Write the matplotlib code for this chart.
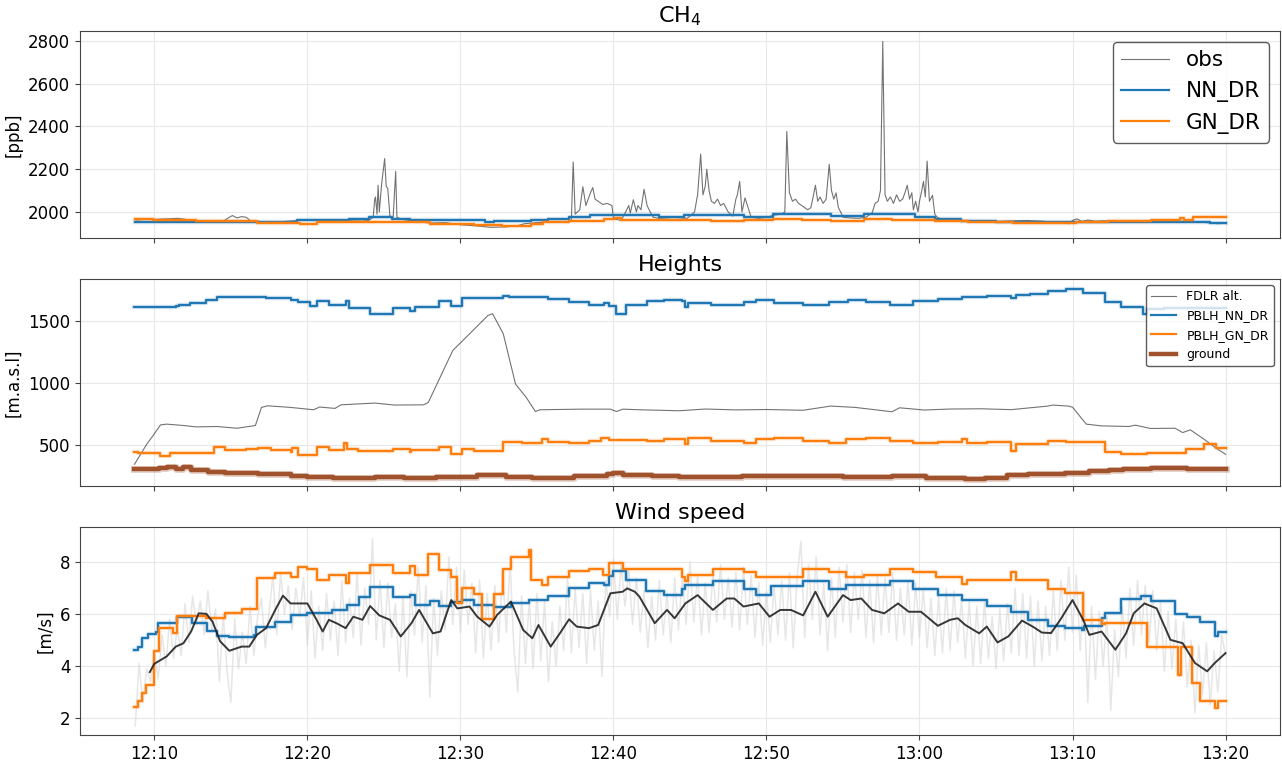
import numpy as np
import pandas as pd
import matplotlib
matplotlib.use("Agg")
import matplotlib.pyplot as plt
import matplotlib.dates as mdates

# ---------------- DATA (time in minutes after 12:00) ----------------
# CH4 observations
obs_t = [8.8, 9.5, 10.0, 10.5, 11.0, 11.5, 12.0, 12.4, 13.0, 13.8, 14.5, 14.9, 15.1, 15.4, 15.7, 16.0, 16.3,
         17.0, 18.0, 19.0, 20.0, 20.5, 21.0, 21.8, 22.5, 23.0, 23.6, 24.0, 24.3, 24.4, 24.45, 24.55, 24.62,
         24.7, 24.85, 25.05, 25.15, 25.25, 25.4, 25.6, 25.77, 25.85, 26.2, 27.0, 28.0, 29.0, 30.0, 31.0,
         32.0, 33.0, 33.7, 34.2, 35.0, 36.0, 37.0, 37.25, 37.37, 37.5, 37.8, 38.0, 38.2, 38.35, 38.5, 38.65,
         38.8, 39.0, 39.3, 39.6, 39.9, 40.0, 40.2, 40.5, 40.8, 41.0, 41.1, 41.3, 41.5, 41.6, 41.8, 42.0,
         42.2, 42.4, 42.6, 43.0, 44.0, 44.8, 45.0, 45.3, 45.5, 45.7, 45.85, 46.0, 46.1, 46.25, 46.4, 46.6,
         46.8, 47.0, 47.2, 47.5, 47.8, 48.0, 48.1, 48.25, 48.4, 48.6, 48.8, 49.0, 49.5, 50.0, 50.5, 51.0,
         51.2, 51.33, 51.5, 51.7, 51.9, 52.1, 52.3, 52.5, 52.7, 52.9, 53.05, 53.2, 53.35, 53.5, 53.7, 53.9,
         54.1, 54.25, 54.4, 54.55, 54.7, 54.85, 55.0, 55.5, 56.0, 56.5, 56.9, 57.1, 57.3, 57.45, 57.6,
         57.75, 57.9, 58.1, 58.3, 58.5, 58.7, 58.9, 59.05, 59.2, 59.35, 59.5, 59.6, 59.75, 59.9, 60.0,
         60.15, 60.26, 60.38, 60.5, 60.65, 60.85, 61.0, 61.15, 61.5, 62.0, 63.0, 64.0, 65.0, 66.0, 67.0,
         68.0, 69.0, 69.8, 70.0, 70.3, 70.6, 71.0, 71.5, 72.0, 73.0, 74.0, 75.0, 76.0, 77.0, 78.0, 79.0,
         79.5, 80.0]
obs_v = [1962, 1966, 1965, 1967, 1968, 1970, 1966, 1958, 1957, 1955, 1957, 1975, 1983, 1972, 1978, 1975, 1958,
         1955, 1953, 1958, 1963, 1960, 1956, 1958, 1960, 1958, 1957, 1960, 1975, 2060, 2070, 1990, 2125,
         2000, 2130, 2250, 2120, 2110, 1975, 1968, 2190, 1975, 1965, 1955, 1948, 1950, 1940, 1935,
         1928, 1930, 1935, 1945, 1950, 1953, 1955, 1960, 2234, 1990, 2010, 2118, 2030, 2060, 2090, 2114,
         2060, 2050, 2035, 2040, 2030, 1970, 1965, 1960, 2000, 2030, 1995, 2057, 2000, 2030, 2010, 2106,
         2030, 2000, 1975, 1970, 1975, 1970, 1980, 2000, 2080, 2271, 2080, 2120, 2200, 2100, 2050, 2040,
         2060, 2030, 2040, 2000, 1980, 2060, 2080, 2143, 2000, 2066, 2020, 1975, 1970, 1975, 1985, 1990,
         2000, 2377, 2090, 2050, 2060, 2040, 2030, 2020, 2010, 2020, 2070, 2125, 2050, 2070, 2040, 2060,
         2223, 2100, 2060, 2089, 2020, 2000, 1975, 1972, 1970, 1975, 1995, 2040, 2050, 2100, 2798,
         2080, 2050, 2070, 2040, 2080, 2050, 2060, 2090, 2125, 2060, 2090, 2010, 2050, 2000, 2050,
         2100, 2143, 2070, 2238, 2050, 2078, 1990, 1975, 1965, 1960, 1958, 1960, 1955, 1958, 1960,
         1957, 1950, 1945, 1960, 1968, 1955, 1962, 1956, 1958, 1955, 1957, 1955, 1958, 1956, 1955, 1948,
         1945, 1947]

ch4_nn_t = [8.75, 12.5, 16.7, 19.3, 22.7, 24.0, 25.5, 26.7, 30.0, 31.6, 32.2, 34.6, 35.7, 37.1, 38.5, 40.0,
            43.0, 44.6, 48.5, 50.4, 54.2, 56.4, 59.7, 61.0, 62.7, 65.0, 67.5, 70.0, 70.6, 78.0, 79.0, 80.0]
ch4_nn_v = [1953, 1955, 1952, 1960, 1968, 1978, 1968, 1963, 1960, 1952, 1957, 1960, 1966, 1977, 1988, 1985,
            1975, 1987, 1978, 1989, 1980, 1991, 1977, 1965, 1958, 1954, 1951, 1952, 1955, 1952, 1949, 1949]
ch4_gn_t = [8.75, 9.9, 12.7, 16.7, 19.5, 20.6, 28.0, 30.9, 32.7, 34.6, 35.4, 37.1, 39.4, 40.1, 40.5, 43.3,
            46.4, 48.5, 50.4, 52.3, 54.2, 56.4, 58.2, 61.0, 63.2, 66.1, 70.2, 72.3, 75.1, 77.0, 77.3, 77.9, 80.0]
ch4_gn_v = [1967, 1963, 1957, 1948, 1945, 1951, 1942, 1937, 1934, 1943, 1952, 1957, 1965, 1972, 1963, 1960,
            1958, 1963, 1969, 1963, 1957, 1969, 1963, 1957, 1954, 1946, 1954, 1958, 1962, 1971, 1963, 1977, 1977]

# Heights
fdlr_t = [8.7, 9.5, 9.9, 10.4, 10.8, 11.9, 12.7, 14.1, 15.4, 16.6, 17.0, 17.4, 18.9, 20.4, 20.8, 21.8, 22.2,
          24.4, 25.7, 27.6, 27.9, 29.5, 30.6, 31.8, 32.1, 32.8, 33.6, 34.3, 34.9, 35.2, 37.9, 39.8, 40.2,
          40.6, 41.7, 44.3, 46.0, 48.0, 50.0, 52.4, 54.2, 55.8, 58.2, 58.7, 60.3, 62.0, 64.0, 66.0, 68.4,
          68.7, 69.7, 70.0, 70.9, 71.9, 73.7, 74.1, 75.1, 76.7, 77.2, 77.7, 78.6, 79.4, 80.0]
fdlr_v = [344, 506, 573, 662, 668, 657, 646, 649, 635, 657, 803, 816, 803, 784, 806, 795, 824,
          838, 822, 824, 843, 1262, 1397, 1545, 1559, 1397, 992, 884, 770, 784, 789, 789, 770,
          789, 784, 776, 790, 783, 786, 780, 814, 803, 768, 800, 782, 790, 792, 785, 814,
          822, 814, 805, 668, 654, 649, 660, 633, 635, 600, 622, 546, 473, 425]

pblh_nn_t = [8.7, 11.4, 11.6, 12.3, 13.4, 14.1, 15.0, 17.3, 18.9, 19.4, 20.2, 20.6, 21.4, 22.5, 22.7, 24.1,
             25.6, 26.7, 27.0, 28.6, 29.4, 30.1, 32.8, 33.2, 35.7, 37.1, 38.4, 39.4, 39.7, 40.2, 40.8, 42.2,
             43.3, 44.5, 44.7, 44.85, 46.4, 48.5, 49.3, 50.5, 52.4, 54.1, 55.3, 56.5, 58.1, 59.6, 61.2, 62.8,
             64.4, 66.0, 66.3, 67.2, 68.4, 69.6, 70.7, 72.1, 73.2, 74.6, 74.9, 76.0, 80.0]
pblh_nn_v = [1610, 1618, 1626, 1645, 1670, 1697, 1690, 1683, 1672, 1650, 1624, 1659, 1626, 1661, 1607, 1559,
             1607, 1583, 1610, 1659, 1624, 1686, 1702, 1694, 1680, 1656, 1632, 1648, 1624, 1559, 1632, 1659,
             1667, 1659, 1613, 1645, 1632, 1653, 1667, 1648, 1632, 1653, 1667, 1653, 1632, 1661, 1678, 1694,
             1702, 1686, 1710, 1721, 1743, 1756, 1729, 1653, 1613, 1560, 1600, 1607, 1607]

pblh_gn_t = [8.7, 8.9, 10.4, 11.0, 13.5, 13.9, 14.6, 16.0, 16.8, 17.6, 18.9, 19.0, 19.4, 20.6, 21.4, 22.4,
             22.6, 23.3, 25.6, 26.7, 26.8, 28.6, 29.4, 30.1, 30.9, 32.8, 34.0, 35.3, 35.7, 37.1, 38.4, 39.2,
             39.7, 42.2, 43.3, 44.7, 44.85, 46.4, 48.5, 49.3, 50.5, 52.4, 54.1, 55.2, 56.5, 58.1, 59.6, 61.2,
             62.8, 63.1, 64.4, 66.0, 66.3, 68.4, 69.6, 72.1, 73.2, 74.9, 77.4, 78.6, 79.4, 80.0]
pblh_gn_v = [447, 433, 414, 433, 436, 484, 460, 468, 473, 460, 441, 478, 420, 487, 457, 519,
             465, 452, 465, 444, 457, 484, 427, 465, 452, 522, 516, 552, 524, 514, 533, 554,
             541, 533, 552, 511, 560, 533, 514, 552, 560, 533, 514, 552, 560, 533, 514, 527,
             552, 519, 524, 452, 506, 533, 524, 441, 425, 438, 470, 506, 473, 473]

ground_t = [8.7, 10.3, 10.8, 11.4, 11.9, 12.4, 13.5, 14.6, 16.8, 18.9, 20.0, 21.7, 24.4, 26.3, 28.4, 31.1,
            33.0, 34.7, 36.0, 37.4, 39.6, 40.0, 40.6, 42.5, 44.3, 48.4, 52.4, 55.0, 58.2, 60.4, 63.0, 64.3,
            65.7, 67.1, 69.5, 71.1, 72.4, 73.3, 75.1, 77.5, 79.4, 80.0]
ground_v = [303, 317, 322, 303, 322, 298, 282, 271, 263, 252, 239, 231, 239, 233, 241, 260,
            239, 231, 236, 247, 263, 276, 257, 249, 241, 247, 249, 244, 247, 236, 228, 236,
            255, 263, 276, 287, 298, 309, 317, 306, 303, 303]

# Wind speed
wind_raw_t0 = 8.75
wind_raw_dt = 0.25
wind_raw = [1.7, 4.1, 2.6, 3.9, 3.4,
            4.6, 3.5, 5.2, 4.0, 5.8, 4.3, 5.5, 4.4, 6.4, 4.9, 6.7, 5.6, 6.5, 5.2, 6.9, 5.4,
            6.2, 3.4, 6.0, 3.8, 2.6, 5.8, 3.9, 5.3, 4.1, 6.3, 4.4, 5.9, 6.6, 4.7, 6.1, 7.5,
            5.2, 7.6, 6.0, 7.1, 5.4, 7.0, 5.9, 7.4, 4.8, 6.9, 4.3, 6.3, 4.6, 6.8, 5.0, 6.5,
            4.4, 7.3, 4.9, 6.6, 5.1, 7.6, 4.8, 7.0, 5.6, 8.9, 5.0, 7.3, 4.7, 7.2, 5.1, 6.4,
            3.8, 6.7, 3.6, 6.9, 5.2, 7.8, 4.9, 7.1, 2.8, 6.6, 4.4, 6.9, 5.4, 8.2, 5.6, 7.8,
            5.3, 7.7, 5.6, 7.2, 4.5, 7.3, 4.3, 6.8, 4.6, 7.1, 4.9, 7.7, 5.3, 8.0, 4.6, 3.0,
            6.7, 4.1, 6.6, 3.9, 6.8, 4.2, 6.5, 3.4, 5.7, 4.0, 6.3, 4.6, 7.4, 4.5, 7.0, 4.7,
            6.8, 4.1, 6.9, 4.6, 6.5, 3.6, 7.3, 5.9, 8.1, 5.8, 7.9, 6.3, 7.7, 5.6, 7.4, 5.3,
            6.9, 4.7, 6.7, 5.0, 7.3, 5.2, 6.8, 4.9, 7.4, 5.4, 7.5, 5.6, 8.0, 5.7, 7.5, 5.2,
            7.2, 5.3, 7.6, 5.7, 7.9, 5.8, 7.4, 5.5, 7.6, 5.4, 7.8, 5.6, 7.5, 5.1, 7.2, 4.8,
            6.9, 4.9, 7.1, 5.2, 7.3, 5.0, 7.6, 4.7, 7.4, 8.8, 5.1, 7.9, 5.8, 8.2, 5.2, 7.2,
            4.6, 7.4, 5.1, 7.8, 5.7, 7.9, 5.3, 7.6, 5.8, 7.7, 5.1, 7.3, 4.9, 7.5, 5.2, 7.4,
            5.3, 7.6, 5.0, 7.0, 5.2, 7.3, 4.8, 7.2, 5.1, 7.0, 4.7, 6.6, 4.4, 6.7, 4.5, 7.0,
            4.6, 6.9, 4.9, 6.6, 4.3, 6.5, 4.0, 6.3, 4.1, 6.5, 4.3, 5.9, 3.9, 6.2, 4.2, 6.4,
            4.5, 7.0, 4.4, 6.8, 4.3, 6.7, 4.0, 6.5, 4.2, 6.3, 4.4, 6.9, 4.6, 7.3, 5.0, 7.8,
            5.3, 7.5, 4.6, 6.9, 2.6, 6.3, 3.5, 6.1, 4.0, 5.9, 2.3, 5.4, 3.6, 6.3, 4.3, 7.0,
            4.8, 7.3, 5.2, 7.1, 4.9, 6.9, 4.6, 6.5, 3.8, 6.1, 3.9, 5.8, 3.6, 5.7, 3.2, 5.0,
            2.2, 4.8, 2.9, 4.9, 2.5, 4.6, 3.0, 5.2, 4.4]

wind_smooth_t = [9.7, 10.0, 10.8, 11.4, 11.9, 12.4, 12.9, 13.4, 13.8, 14.3, 14.9, 15.7, 16.2, 16.7, 17.3,
                 17.9, 18.4, 18.9, 20.0, 20.6, 21.0, 21.4, 21.9, 22.5, 23.0, 23.6, 24.1, 24.7, 25.4, 26.1,
                 26.8, 27.3, 28.2, 28.7, 29.4, 29.8, 30.6, 31.1, 31.9, 32.4, 33.3, 34.1, 34.7, 35.1, 35.9,
                 36.5, 37.1, 37.6, 38.4, 39.0, 39.8, 40.6, 40.9, 41.4, 41.7, 42.7, 43.5, 44.0, 44.7, 45.5,
                 46.5, 47.4, 47.9, 48.5, 49.5, 50.2, 50.9, 51.6, 52.4, 53.2, 54.0, 55.0, 55.5, 56.2, 56.9,
                 57.7, 58.6, 59.3, 60.1, 61.2, 62.0, 62.5, 63.0, 63.9, 64.4, 65.1, 65.8, 66.7, 67.4, 68.0,
                 68.6, 69.2, 70.0, 70.7, 71.1, 71.9, 72.8, 73.5, 74.0, 74.7, 75.5, 76.4, 77.2, 78.0, 78.8,
                 79.3, 80.0]
wind_smooth_v = [3.77, 4.09, 4.37, 4.75, 4.88, 5.33, 6.03, 6.01, 5.71, 4.95, 4.59, 4.75, 4.75, 5.20, 5.46,
                 6.16, 6.71, 6.41, 6.41, 5.78, 5.33, 5.78, 5.65, 5.46, 5.90, 5.78, 6.31, 5.95, 5.78, 5.14,
                 5.65, 6.16, 5.26, 5.33, 6.54, 6.22, 6.29, 5.90, 5.52, 5.97, 6.48, 5.39, 5.07, 5.58, 4.75,
                 5.26, 5.80, 5.52, 5.46, 5.58, 6.80, 6.86, 6.99, 6.86, 6.67, 5.65, 6.16, 5.84, 6.41, 6.73,
                 6.16, 6.60, 6.60, 6.29, 6.41, 5.90, 6.16, 6.16, 5.95, 6.86, 5.90, 6.73, 6.54, 6.60, 6.16,
                 6.03, 6.41, 6.09, 6.09, 5.55, 5.78, 5.84, 5.58, 5.26, 5.52, 4.91, 5.14, 5.75, 5.52, 5.29,
                 5.27, 5.78, 6.54, 5.78, 5.20, 5.33, 4.63, 5.26, 6.03, 6.41, 6.22, 5.01, 4.88, 4.12, 3.80,
                 4.12, 4.50]

wind_nn_t = [8.7, 8.9, 9.2, 9.6, 10.1, 10.25, 11.5, 12.45, 13.45, 14.1, 14.9, 16.5, 16.65, 17.9, 18.9, 20.0,
             21.6, 22.6, 23.4, 24.1, 25.6, 26.7, 27.0, 28.0, 28.6, 29.4, 30.1, 30.9, 32.2, 33.3, 34.5, 35.7,
             37.1, 38.4, 39.4, 39.7, 40.0, 40.8, 42.1, 43.3, 44.5, 44.7, 46.5, 48.5, 49.3, 50.3, 52.4, 54.1,
             55.2, 58.1, 59.6, 61.2, 62.8, 64.4, 66.0, 67.1, 68.4, 69.5, 70.6, 70.75, 71.9, 72.1, 73.2, 74.5,
             75.1, 76.7, 77.5, 78.3, 79.3, 79.5, 80.0]
wind_nn_v = [4.63, 4.75, 5.07, 5.24, 5.33, 5.65, 5.88, 5.65, 5.35, 5.16, 5.11, 5.21, 5.52, 5.70, 5.97, 6.03,
             6.16, 6.34, 6.64, 7.05, 6.64, 6.73, 6.35, 6.52, 6.31, 6.48, 6.54, 6.34, 6.29, 6.41, 6.54, 6.71,
             6.99, 7.18, 7.12, 7.46, 7.67, 7.31, 6.90, 6.73, 6.95, 7.12, 7.28, 6.96, 6.73, 7.08, 7.28, 6.96,
             7.12, 7.28, 6.96, 6.73, 6.54, 6.31, 6.09, 5.78, 5.55, 5.48, 5.39, 5.55, 5.84, 6.06, 6.57, 6.71,
             6.50, 5.99, 5.90, 5.71, 5.14, 5.33, 5.33]

wind_gn_t = [8.7, 8.9, 9.2, 9.45, 9.95, 10.3, 11.2, 11.5, 13.4, 14.6, 15.7, 16.7, 17.9, 18.9, 19.4, 20.0,
             20.6, 21.4, 22.5, 22.7, 24.1, 25.6, 26.7, 27.0, 27.9, 28.6, 29.4, 29.8, 30.1, 30.9, 31.4, 32.2,
             32.8, 33.3, 34.5, 34.6, 35.3, 35.7, 37.1, 38.4, 39.3, 39.7, 40.6, 44.5, 44.7, 44.85, 46.5, 48.5,
             49.3, 52.4, 54.1, 55.2, 56.4, 58.1, 59.6, 61.1, 62.8, 63.1, 66.0, 66.3, 68.4, 69.5, 70.7, 71.9,
             72.1, 74.9, 76.9, 77.1, 77.8, 78.3, 79.3, 79.5, 80.0]
wind_gn_v = [2.42, 2.65, 2.97, 3.26, 4.60, 5.46, 5.29, 5.94, 5.84, 6.06, 6.18, 7.40, 7.59, 7.44, 7.82, 7.75,
             7.33, 7.50, 7.18, 7.59, 7.87, 7.59, 7.86, 7.50, 8.33, 7.69, 7.44, 6.41, 6.99, 6.76, 5.80, 6.76,
             7.72, 8.18, 8.48, 7.31, 7.12, 7.41, 7.67, 7.75, 7.50, 7.98, 7.73, 7.44, 7.28, 7.51, 7.73, 7.63,
             7.44, 7.73, 7.63, 7.44, 7.50, 7.73, 7.63, 7.41, 7.14, 7.31, 7.63, 7.31, 6.95, 6.80, 5.78, 5.61,
             5.67, 4.75, 3.67, 4.75, 3.35, 2.67, 2.39, 2.67, 2.67]

# ---------------- PLOT ----------------
base = pd.Timestamp("2018-06-06 12:00:00")


def tt(m):
    return base + pd.to_timedelta(np.asarray(m, dtype=float), unit="m")


plt.rcParams["font.family"] = "DejaVu Sans"
W, H = 1282, 761
fig = plt.figure(figsize=(W / 100, H / 100), dpi=100)


def mkax(top, bottom):
    return fig.add_axes([80 / W, 1 - bottom / H, 1200 / W, (bottom - top) / H])


ax1 = mkax(31, 238)
ax2 = mkax(279, 486)
ax3 = mkax(527, 735)

C0, C1 = "#1f77b4", "#ff7f0e"


def stepline(ax, t, v, color, lw=1.6, label=None):
    ax.step(tt(t), v, where="post", color=color, lw=lw + 1.6, alpha=0.18)
    ax.step(tt(t), v, where="post", color=color, lw=lw, label=label)


# CH4
ax1.plot(tt(obs_t), obs_v, color="k", alpha=0.55, lw=0.8, label="obs")
stepline(ax1, ch4_nn_t, ch4_nn_v, C0, label="NN_DR")
stepline(ax1, ch4_gn_t, ch4_gn_v, C1, label="GN_DR")
ax1.set_title("CH$_4$", fontsize=16)
ax1.set_ylabel("[ppb]", fontsize=12)
ax1.legend(loc="upper right", fontsize=15.5, handlelength=2.2, edgecolor="#333333")

# Heights
ax2.plot(tt(fdlr_t), fdlr_v, color="k", alpha=0.55, lw=0.8, label="FDLR alt.")
stepline(ax2, pblh_nn_t, pblh_nn_v, C0, label="PBLH_NN_DR")
stepline(ax2, pblh_gn_t, pblh_gn_v, C1, label="PBLH_GN_DR")
ax2.step(tt(ground_t), ground_v, where="post", color="sienna", lw=5.0, alpha=0.25)
ax2.step(tt(ground_t), ground_v, where="post", color="sienna", lw=3.2, label="ground")
ax2.set_title("Heights", fontsize=16)
ax2.set_ylabel("[m.a.s.l]", fontsize=12)
ax2.set_yticks([500, 1000, 1500])
ax2.legend(loc="upper right", fontsize=9, edgecolor="#333333")

# Wind
raw_t = wind_raw_t0 + wind_raw_dt * np.arange(len(wind_raw))
ax3.plot(tt(raw_t), wind_raw, color="lightgray", alpha=0.55, lw=1.1)
stepline(ax3, wind_nn_t, wind_nn_v, C0)
stepline(ax3, wind_gn_t, wind_gn_v, C1)
ax3.plot(tt(wind_smooth_t), wind_smooth_v, color="#222222", alpha=0.9, lw=1.4)
ax3.set_title("Wind speed", fontsize=16)
ax3.set_ylabel("[m/s]", fontsize=12)
ax3.set_yticks([2, 4, 6, 8])

xmin = tt(8.7 - 3.56)
xmax = tt(80 + 3.56)
for ax in (ax1, ax2, ax3):
    ax.set_xlim(xmin, xmax)
    ax.grid(True, color="#e8e8e8", lw=0.8)
    ax.set_axisbelow(True)
    for s in ax.spines.values():
        s.set_color("#444444")
    ax.tick_params(labelsize=12, color="#444444")
    ax.xaxis.set_major_locator(mdates.MinuteLocator(byminute=[0, 10, 20, 30, 40, 50]))
    ax.xaxis.set_major_formatter(mdates.DateFormatter("%H:%M"))
ax1.tick_params(labelbottom=False)
ax2.tick_params(labelbottom=False)
ax1.set_ylim(1878, 2847)
ax2.set_ylim(169, 1839)
ax3.set_ylim(1.35, 9.35)

fig.savefig("out.png", dpi=100)
